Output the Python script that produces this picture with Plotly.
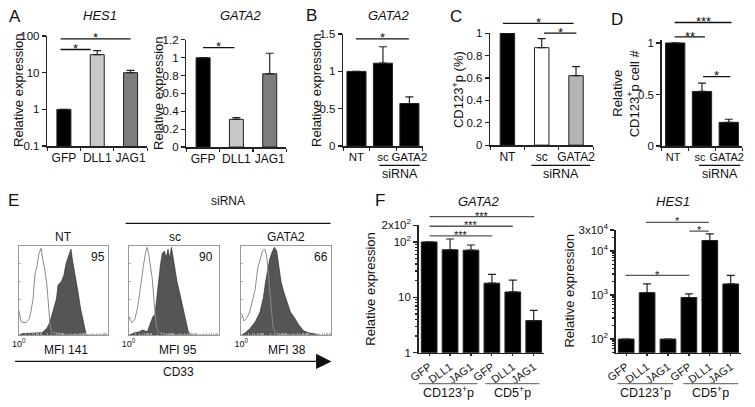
import plotly.graph_objects as go

W, H = 755, 407
FONT = "Arial, 'Liberation Sans', sans-serif"

# ---------------- data ----------------
a_cats = ["GFP", "DLL1", "JAG1"]
a_hes1 = [1.0, 31.0, 10.0]
a_hes1_err = [0, 9.0, 1.5]
a_gata2 = [1.0, 0.31, 0.82]
a_gata2_err = [0, 0.02, 0.23]
a_colors = ["#000000", "#c8c8c8", "#7d7d7d"]

bcd_cats = ["NT", "sc", "GATA2"]
b_gata2 = [1.0, 1.11, 0.57]
b_gata2_err = [0, 0.22, 0.09]
c_cd123_pct = [1.0, 0.87, 0.62]
c_cd123_err = [0, 0.08, 0.08]
c_colors = ["#000000", "#ffffff", "#b4b4b4"]
d_cd123_num = [1.0, 0.53, 0.23]
d_cd123_err = [0, 0.08, 0.03]

f_cats = ["GFP", "DLL1", "JAG1", "GFP", "DLL1", "JAG1"]
f_groups = ["CD123<sup>+</sup>p", "CD5<sup>+</sup>p"]
f_gata2 = [100, 72, 71, 18, 12.5, 3.8]
f_gata2_err = [0, 41, 17, 8, 8, 2]
f_hes1 = [100, 1135, 100, 880, 17400, 1790]
f_hes1_err = [0, 655, 0, 190, 7100, 1010]

# flow histograms (x = log10 CD33 intensity, y = % of max count)
e_labels = ["NT", "sc", "GATA2"]
e_pct = ["95", "90", "66"]
e_mfi = ["MFI 141", "MFI 95", "MFI 38"]
nt_iso_log = [0, 0.1, 0.32, 0.46, 0.54, 0.64, 0.72, 0.82, 0.9, 1.0, 1.07, 1.16, 1.26, 1.33, 1.4, 1.47, 1.62, 1.91, 2.2, 4.0]
nt_iso_cnt = [28, 15, 14, 18, 26, 41, 67, 78, 91, 97, 85, 74, 56, 30, 12, 4, 3, 2, 1, 0]
nt_cd33_log = [0, 0.17, 1.04, 1.26, 1.4, 1.54, 1.69, 1.76, 1.91, 2.02, 2.12, 2.24, 2.34, 2.41, 2.48, 2.63, 2.77, 2.92, 3.02, 3.06]
nt_cd33_cnt = [0, 2, 3, 8, 15, 28, 41, 56, 60, 67, 80, 89, 96, 83, 74, 52, 30, 12, 1, 0]
sc_iso_log = [0, 0.14, 0.28, 0.39, 0.48, 0.58, 0.66, 0.76, 0.83, 0.9, 0.96, 1.05, 1.13, 1.21, 1.28, 1.38, 1.66, 4.0]
sc_iso_cnt = [21, 14, 18, 30, 45, 67, 78, 93, 98, 89, 80, 63, 38, 15, 6, 3, 1, 0]
sc_cd33_log = [0, 0.28, 0.48, 0.62, 0.83, 0.96, 1.08, 1.17, 1.24, 1.31, 1.41, 1.49, 1.59, 1.66, 1.75, 1.82, 1.9, 1.96, 2.04, 2.14, 2.24, 2.34, 2.46, 2.55, 2.65, 2.76]
sc_cd33_cnt = [0, 3, 4, 6, 4, 12, 21, 23, 41, 60, 78, 91, 94, 86, 96, 85, 98, 89, 74, 61, 50, 38, 23, 12, 4, 1]
g2_iso_log = [0, 0.12, 0.26, 0.37, 0.47, 0.62, 0.72, 0.83, 0.94, 1.04, 1.12, 1.18, 1.26, 1.33, 1.4, 1.52, 1.68, 4.0]
g2_iso_cnt = [25, 16, 20, 26, 36, 52, 74, 85, 94, 96, 90, 74, 49, 26, 10, 3, 1, 0]
g2_cd33_log = [0, 0.18, 0.4, 0.62, 0.83, 0.97, 1.08, 1.18, 1.26, 1.37, 1.47, 1.57, 1.66, 1.76, 1.9, 2.04, 2.18, 2.37, 2.54, 2.76, 2.97, 3.4]
g2_cd33_cnt = [0, 3, 8, 15, 26, 41, 60, 74, 85, 93, 98, 94, 78, 60, 47, 36, 26, 19, 12, 5, 3, 1]

# ---------------- helpers ----------------
def dx(a, b):
    return [a / W, b / W]

def dy(top, bottom):
    return [1 - bottom / H, 1 - top / H]

def px(v):
    return v / W

def py(v):
    return 1 - v / H

annotations = []
shapes = []

def txt(x, y, text, size=12, **kw):
    d = dict(x=px(x), y=py(y), xref="paper", yref="paper", text=text, showarrow=False,
             font=dict(family=FONT, size=size, color="#111"), xanchor="center", yanchor="middle")
    d.update(kw)
    annotations.append(d)

def axn(n):
    return "" if n == 1 else str(n)

fig = go.Figure()

def add_bars(n, xs, vals, errs, colors, width):
    fig.add_trace(go.Bar(
        x=xs, y=vals, width=width,
        marker=dict(color=colors, line=dict(color="#222", width=1)),
        error_y=dict(type="data", array=errs, arrayminus=[0] * len(vals), symmetric=False,
                     color="#222", thickness=1.2, width=4),
        xaxis="x" + axn(n), yaxis="y" + axn(n), showlegend=False))

add_bars(1, a_cats, a_hes1, a_hes1_err, a_colors, 0.42)
add_bars(2, a_cats, a_gata2, a_gata2_err, a_colors, 0.42)
add_bars(3, bcd_cats, b_gata2, b_gata2_err, "#000000", 0.72)
add_bars(4, bcd_cats, c_cd123_pct, c_cd123_err, c_colors, 0.42)
add_bars(5, bcd_cats, d_cd123_num, d_cd123_err, "#000000", 0.72)
f_x = list(range(len(f_cats)))
add_bars(9, f_x, f_gata2, f_gata2_err, "#000000", 0.75)
add_bars(10, f_x, f_hes1, f_hes1_err, "#000000", 0.75)

hists = [(nt_iso_log, nt_iso_cnt, nt_cd33_log, nt_cd33_cnt),
         (sc_iso_log, sc_iso_cnt, sc_cd33_log, sc_cd33_cnt),
         (g2_iso_log, g2_iso_cnt, g2_cd33_log, g2_cd33_cnt)]
for k, (il, ic, cl, cc) in enumerate(hists):
    n = 6 + k
    fig.add_trace(go.Scatter(x=[10 ** v for v in cl], y=cc, mode="lines",
                             line=dict(color="#222", width=0.6), fill="tozeroy", fillcolor="#555555",
                             xaxis="x" + axn(n), yaxis="y" + axn(n), showlegend=False))
    fig.add_trace(go.Scatter(x=[10 ** v for v in il], y=ic, mode="lines",
                             line=dict(color="#8a8a8a", width=1),
                             xaxis="x" + axn(n), yaxis="y" + axn(n), showlegend=False))

# ---------------- axes ----------------
tickfont = dict(family=FONT, size=11.5, color="#111")
catfont = dict(family=FONT, size=12, color="#111")
base = dict(showline=True, linecolor="#222", linewidth=1.5, ticks="outside", tickcolor="#222",
            tickwidth=1.2, ticklen=4, showgrid=False, zeroline=False, fixedrange=True,
            ticklabeloverflow="allow")

layout_axes = {}

def set_axes(n, xdom, ydom, xcfg, ycfg):
    xa = dict(base); xa.update(domain=xdom, anchor="y" + axn(n)); xa.update(xcfg)
    ya = dict(base); ya.update(domain=ydom, anchor="x" + axn(n)); ya.update(ycfg)
    layout_axes["xaxis" + axn(n)] = xa
    layout_axes["yaxis" + axn(n)] = ya

def cat_x(cats, shift=0, size=12):
    return dict(type="category", categoryorder="array", categoryarray=cats, range=[-0.5, 2.5],
                tickson="boundaries", ticklen=3, tickangle=0, ticklabelshift=shift,
                tickfont=dict(family=FONT, size=size, color="#111"))

set_axes(1, dx(38, 140), dy(29, 143), cat_x(a_cats),
         dict(type="log", range=[-1, 2], tickvals=[0.1, 1, 10, 100], ticktext=["0.1", "1", "10", "100"], tickfont=tickfont))
set_axes(2, dx(180, 282), dy(33, 144), cat_x(a_cats),
         dict(range=[0, 1.2], dtick=0.2, tickfont=tickfont))
set_axes(3, dx(340, 421), dy(27, 143), cat_x(bcd_cats, size=11.5),
         dict(range=[0, 1.5], tickvals=[0, 0.5, 1, 1.5], tickfont=tickfont))
set_axes(4, dx(490, 595), dy(26, 142), cat_x(bcd_cats),
         dict(range=[0, 1], dtick=0.2, tickfont=tickfont))
set_axes(5, dx(665, 747), dy(33, 143), cat_x(bcd_cats, shift=-2, size=11),
         dict(range=[0, 1.03], tickvals=[0, 0.5, 1], tickfont=tickfont))

minor_e = [m * 10 ** e for e in range(4) for m in range(1, 10) if m * 10 ** e > 1]
for k, (x0, x1) in enumerate([(9, 100), (121, 213), (236, 328)]):
    ex = dict(type="log", range=[0, 4], autorange=False, showline=True, mirror=True, linecolor="#999", linewidth=1,
              ticks="inside", ticklen=3, tickcolor="#999", tickwidth=0.8,
              tickvals=[1], ticktext=["10<sup>0</sup>"],
              tickfont=dict(family=FONT, size=9, color="#111"),
              minor=dict(tickvals=minor_e, ticks="inside", ticklen=2, tickcolor="#aaa"))
    ey = dict(range=[0, 100], autorange=False, showline=True, mirror=True, linecolor="#999", linewidth=1,
              ticks="inside", ticklen=2, tickcolor="#aaa", tickwidth=0.8,
              tickvals=[0, 20, 40, 60, 80, 100], showticklabels=False)
    set_axes(6 + k, dx(x0, x1), dy(246, 339), ex, ey)

fx = dict(range=[-0.5, 5.5], tickvals=f_x, ticktext=f_cats, tickangle=-36, ticklen=2,
          tickfont=dict(family=FONT, size=11, color="#111"))
minor_f1 = [m * 10 ** e for e in range(2) for m in range(2, 10)]
set_axes(9, dx(417, 545), dy(225, 357), fx,
         dict(type="log", range=[0, 2.30103], tickvals=[1, 10, 100, 200],
              ticktext=["1", "10", "10<sup>2</sup>", "2x10<sup>2</sup>"], tickfont=tickfont,
              minor=dict(tickvals=minor_f1, ticks="outside", ticklen=2, tickcolor="#222")))
minor_f2 = [m * 10 ** e for e in range(1, 5) for m in range(2, 10) if 49 < m * 10 ** e < 30000]
set_axes(10, dx(618, 746), dy(230, 357), dict(fx),
         dict(type="log", range=[1.69, 4.4771], tickvals=[100, 1000, 10000, 30000],
              ticktext=["10<sup>2</sup>", "10<sup>3</sup>", "10<sup>4</sup>", "3x10<sup>4</sup>"], tickfont=tickfont,
              minor=dict(tickvals=minor_f2, ticks="outside", ticklen=2, tickcolor="#222")))

# ---------------- significance bars ----------------
sig = [  # (axis, x0, x1, y_px, label)
    (1, -0.1, 0.8, 43, "*"), (1, -0.1, 2.0, 32, "*"),
    (2, 0.0, 0.94, 41, "*"),
    (3, -0.02, 1.98, 32, "*"),
    (4, -0.13, 1.93, 16, "*"), (4, 1.07, 2.01, 26, "*"),
    (5, -0.02, 2.1, 15, "***"), (5, -0.02, 1.11, 30, "**"), (5, 1.04, 2.06, 71, "*"),
    (9, 0.02, 3.02, 236, "***"), (9, 0.02, 4.0, 226, "***"), (9, 0.02, 5.03, 216, "***"),
    (10, -0.03, 3.02, 277, "*"), (10, 0.95, 3.95, 222, "*"), (10, 3.02, 3.95, 231, "*"),
]
for n, x0, x1, ypx, lab in sig:
    col = "#555" if n >= 9 else "#111"
    size = 11 if n >= 9 else 13
    shapes.append(dict(type="line", xref="x" + axn(n), yref="paper", x0=x0, x1=x1, y0=py(ypx), y1=py(ypx),
                       line=dict(color=col, width=1.3)))
    annotations.append(dict(xref="x" + axn(n), yref="paper", x=(x0 + x1) / 2, y=py(ypx - 1), text=lab,
                            showarrow=False, font=dict(family=FONT, size=size, color="#111"),
                            xanchor="center", yanchor="middle", borderpad=0))

groups = [  # (axis, x0, x1, line y px, text y px, label, color)
    (3, 0.87, 2.39, 163, 172, "siRNA", "#111"),
    (4, 0.7, 2.41, 163, 172, "siRNA", "#111"),
    (5, 0.89, 2.43, 163, 172, "siRNA", "#111"),
    (9, -0.5, 2.31, 389, 398, f_groups[0], "#777"),
    (9, 2.69, 5.27, 389, 398, f_groups[1], "#777"),
    (10, -0.41, 2.26, 389, 398, f_groups[0], "#777"),
    (10, 2.73, 5.36, 389, 398, f_groups[1], "#777"),
]
for n, x0, x1, ly, ty, lab, col in groups:
    shapes.append(dict(type="line", xref="x" + axn(n), yref="paper", x0=x0, x1=x1, y0=py(ly), y1=py(ly),
                       line=dict(color=col, width=1.2)))
    annotations.append(dict(xref="x" + axn(n), yref="paper", x=(x0 + x1) / 2, y=py(ty), text=lab,
                            showarrow=False, font=dict(family=FONT, size=12.5, color="#111"),
                            xanchor="center", yanchor="middle"))

# ---------------- texts ----------------
for lab, x, y in [("A", 5, 9), ("B", 308, 8), ("C", 455, 9), ("D", 619, 12), ("E", 4, 199), ("F", 377, 199)]:
    txt(x, y, lab, size=17)
for lab, x, y in [("<i>HES1</i>", 92, 8), ("<i>GATA2</i>", 235, 8), ("<i>GATA2</i>", 386, 8),
                  ("<i>GATA2</i>", 478, 200), ("<i>HES1</i>", 676, 200)]:
    txt(x, y, lab, size=13)
for lab, x, y in [("Relative expression", 8, 85), ("Relative expression", 152, 88),
                  ("Relative expression", 312, 85), ("CD123<sup>+</sup>p (%)", 457, 84),
                  ("Relative", 620, 88), ("CD123<sup>+</sup>p cell #", 636, 88),
                  ("Relative expression", 368, 291), ("Relative expression", 571, 293)]:
    txt(x, y, lab, size=13, textangle=-90)

for k, xc in enumerate([55, 168, 282]):
    txt(xc, 237, e_labels[k], size=12)
for k, xc in enumerate([90, 200, 317]):
    txt(xc, 258, e_pct[k], size=12)
for k, xc in enumerate([57, 171, 283]):
    txt(xc, 354, e_mfi[k], size=12)
txt(172, 377, "CD33", size=12)
txt(222, 200, "siRNA", size=12)
shapes.append(dict(type="line", xref="paper", yref="paper", x0=px(118), x1=px(327), y0=py(223), y1=py(223),
                   line=dict(color="#111", width=1.3)))
annotations.append(dict(x=px(328), y=py(366), xref="paper", yref="paper", ax=-318, ay=0,
                        showarrow=True, arrowhead=2, arrowsize=2.2, arrowwidth=1.4, arrowcolor="#111", text=""))

fig.update_layout(width=W, height=H, autosize=False, margin=dict(l=0, r=0, t=0, b=0),
                  paper_bgcolor="white", plot_bgcolor="white", showlegend=False, bargap=0,
                  font=dict(family=FONT, color="#111"),
                  annotations=annotations, shapes=shapes, **layout_axes)

fig.write_html("out.html", config={"displayModeBar": False, "staticPlot": True},
               post_script="document.body.style.margin='0';document.body.style.overflow='hidden';")
